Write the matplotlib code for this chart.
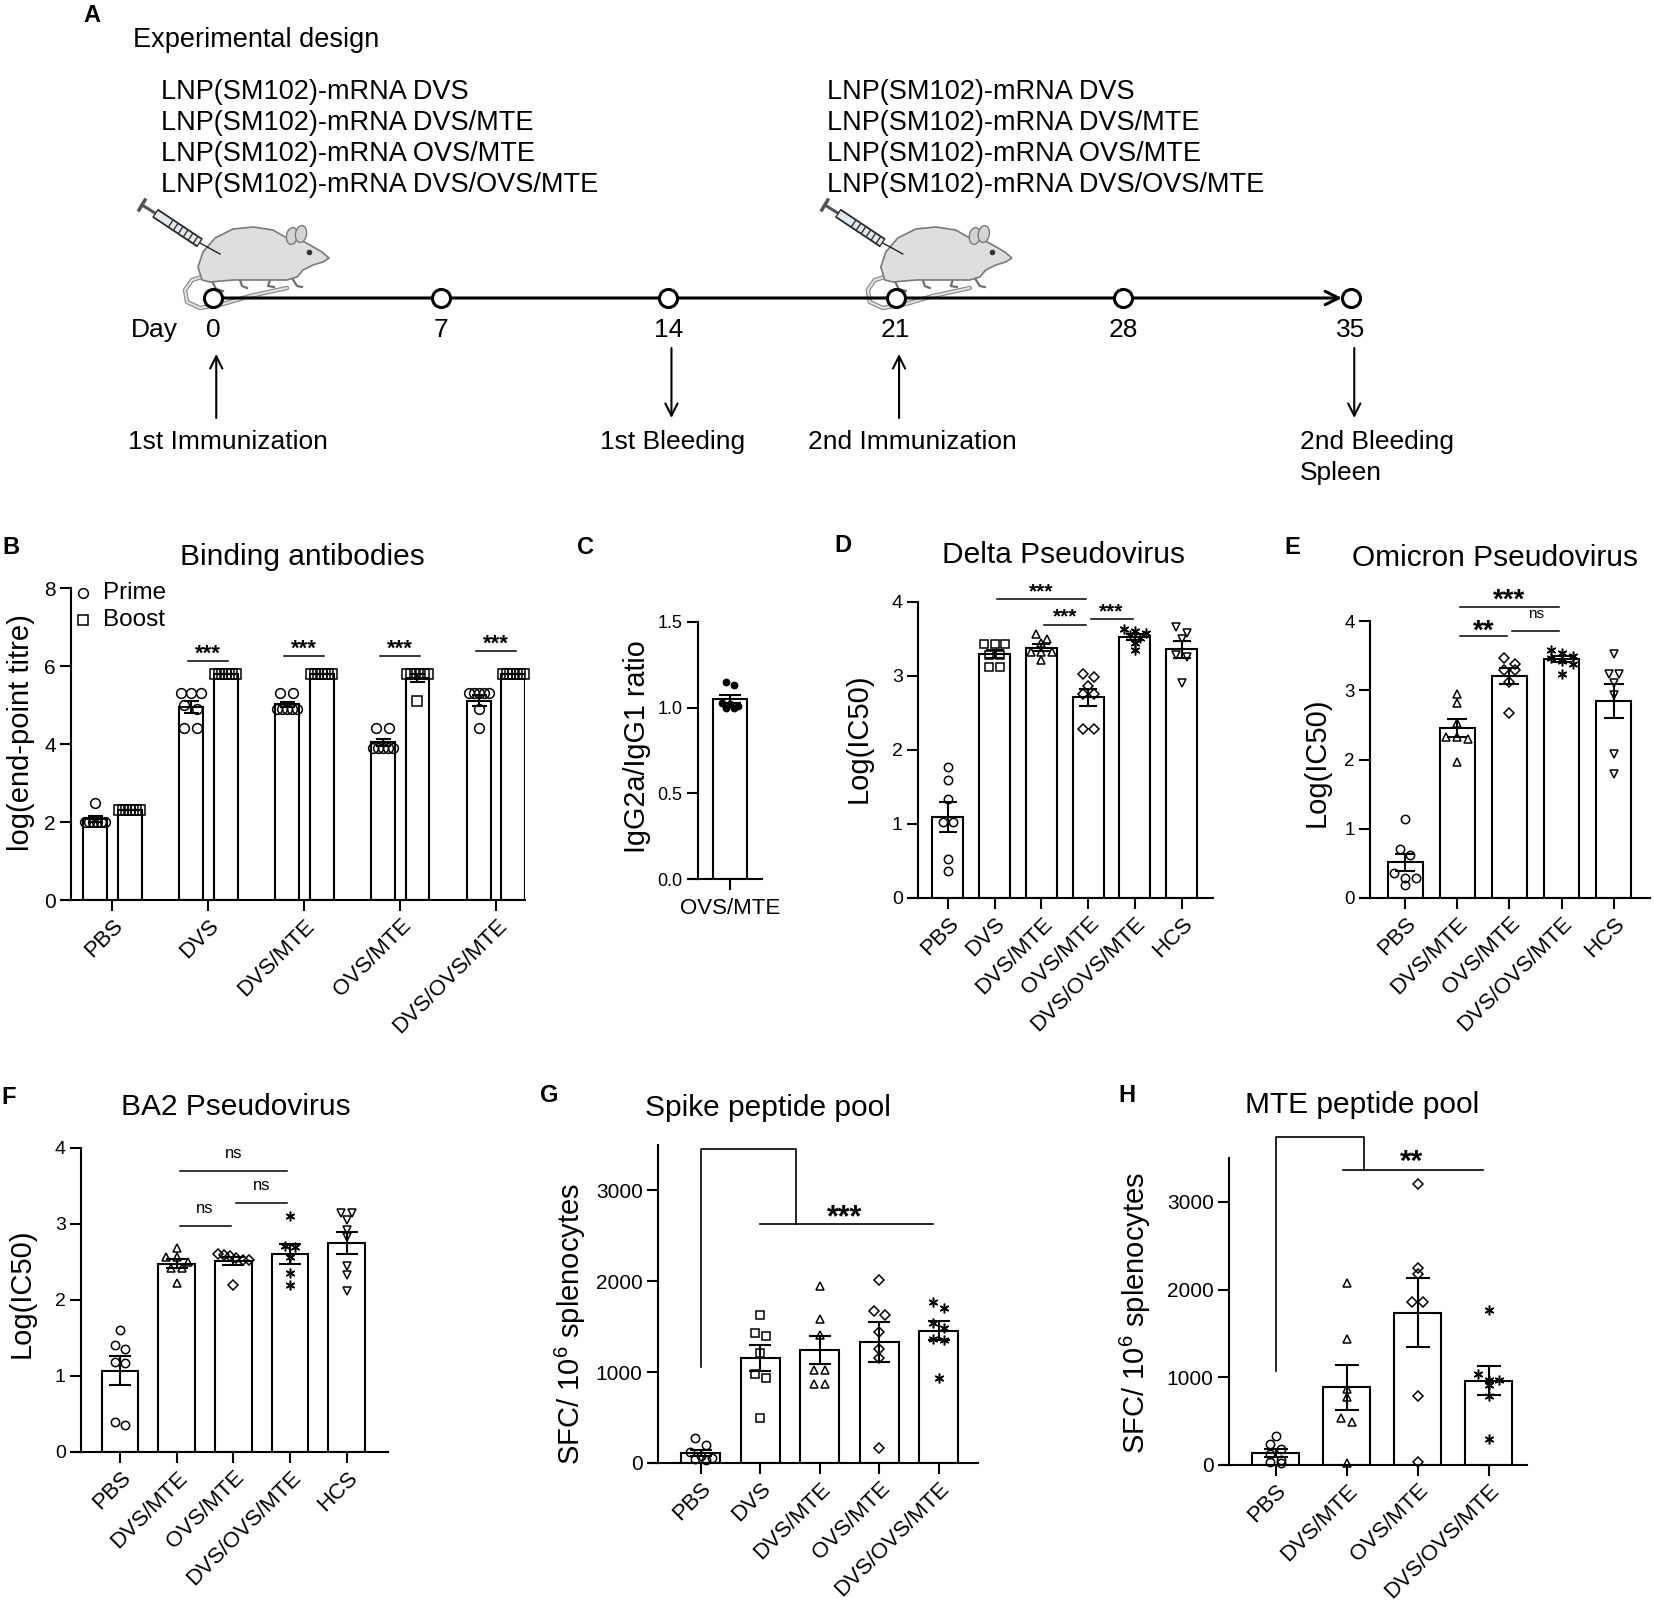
import numpy as np
import matplotlib
matplotlib.use("Agg")
import matplotlib.pyplot as plt
from matplotlib.patches import Polygon, Ellipse

plt.rcParams['font.family'] = ['Liberation Sans', 'DejaVu Sans']
plt.rcParams['mathtext.fontset'] = 'custom'
plt.rcParams['mathtext.rm'] = 'Liberation Sans'
plt.rcParams['mathtext.it'] = 'Liberation Sans:italic'
plt.rcParams['mathtext.bf'] = 'Liberation Sans:bold'

# ======================= DATA =======================
# Panel A - experimental design
timeline_days = [0, 7, 14, 21, 28, 35]
vaccines = ['LNP(SM102)-mRNA DVS', 'LNP(SM102)-mRNA DVS/MTE',
            'LNP(SM102)-mRNA OVS/MTE', 'LNP(SM102)-mRNA DVS/OVS/MTE']
immunization_days = [0, 21]
event_days = [0, 14, 21, 35]
event_labels = ['1st Immunization', '1st Bleeding', '2nd Immunization', '2nd Bleeding\nSpleen']
event_dirs = ['up', 'down', 'up', 'down']

# Panel B - binding antibodies (log end-point titre)
groups_B = ['PBS', 'DVS', 'DVS/MTE', 'OVS/MTE', 'DVS/OVS/MTE']
series_B = ['Prime', 'Boost']
B_prime = [[2.0, 2.0, 2.0, 2.0, 2.0, 2.0, 2.5],
           [5.3, 5.3, 5.3, 5.0, 4.9, 4.4, 4.4],
           [5.3, 5.3, 4.9, 4.9, 4.9, 4.9, 4.9],
           [4.4, 4.4, 3.9, 3.9, 3.9, 3.9, 3.9],
           [5.3, 5.3, 5.3, 5.3, 5.3, 4.9, 4.4]]
B_boost = [[2.3, 2.3, 2.3, 2.3, 2.3, 2.3, 2.3],
           [5.8, 5.8, 5.8, 5.8, 5.8, 5.8, 5.8],
           [5.8, 5.8, 5.8, 5.8, 5.8, 5.8, 5.8],
           [5.8, 5.8, 5.8, 5.8, 5.8, 5.8, 5.1],
           [5.8, 5.8, 5.8, 5.8, 5.8, 5.8, 5.8]]
B_sig_groups = [1, 2, 3, 4]
B_sig_line = [6.13, 6.25, 6.25, 6.38]
B_sig_text = ['***', '***', '***', '***']

# Panel C - IgG2a/IgG1 ratio
groups_C = ['OVS/MTE']
C_vals = [1.00, 1.00, 1.01, 1.02, 1.03, 1.13, 1.15]

# Panel D - Delta pseudovirus Log(IC50)
groups_D = ['PBS', 'DVS', 'DVS/MTE', 'OVS/MTE', 'DVS/OVS/MTE', 'HCS']
D_vals = [[1.77, 1.60, 1.34, 1.03, 1.03, 0.53, 0.36],
          [3.43, 3.43, 3.43, 3.29, 3.29, 3.12, 3.12],
          [3.57, 3.50, 3.44, 3.32, 3.32, 3.32, 3.21],
          [3.03, 2.99, 2.87, 2.76, 2.76, 2.29, 2.29],
          [3.64, 3.61, 3.58, 3.55, 3.52, 3.44, 3.35],
          [3.66, 3.58, 3.50, 3.28, 3.26, 2.90]]
D_sig_pairs = [(1, 3), (2, 3), (3, 4)]
D_sig_line = [4.04, 3.69, 3.77]
D_sig_textpos = [4.22, 3.89, 3.95]
D_sig_text = ['***', '***', '***']

# Panel E - Omicron pseudovirus
groups_E = ['PBS', 'DVS/MTE', 'OVS/MTE', 'DVS/OVS/MTE', 'HCS']
E_vals = [[1.14, 0.71, 0.62, 0.36, 0.29, 0.29, 0.19],
          [2.95, 2.81, 2.52, 2.33, 2.32, 2.30, 1.97],
          [3.46, 3.38, 3.29, 3.29, 3.12, 2.67],
          [3.58, 3.54, 3.50, 3.46, 3.42, 3.38, 3.24],
          [3.52, 3.24, 3.24, 3.10, 2.93, 2.08, 1.79]]
E_sig_pairs = [(1, 3), (1, 2), (2, 3)]
E_sig_line = [4.20, 3.78, 3.86]
E_sig_textpos = [4.42, 3.98, 4.10]
E_sig_text = ['***', '**', 'ns']

# Panel F - BA2 pseudovirus
groups_F = ['PBS', 'DVS/MTE', 'OVS/MTE', 'DVS/OVS/MTE', 'HCS']
F_vals = [[1.61, 1.41, 1.36, 1.19, 1.17, 0.40, 0.36],
          [2.68, 2.56, 2.56, 2.50, 2.42, 2.42, 2.22],
          [2.60, 2.59, 2.58, 2.55, 2.53, 2.52, 2.20],
          [3.10, 2.71, 2.70, 2.56, 2.35, 2.20],
          [3.15, 3.15, 3.05, 2.92, 2.83, 2.45, 2.33, 2.12]]
F_sig_pairs = [(1, 3), (2, 3), (1, 2)]
F_sig_line = [3.70, 3.28, 2.97]
F_sig_textpos = [3.93, 3.51, 3.21]
F_sig_text = ['ns', 'ns', 'ns']

# Panel G - Spike peptide pool ELISpot
groups_G = ['PBS', 'DVS', 'DVS/MTE', 'OVS/MTE', 'DVS/OVS/MTE']
G_vals = [[270, 200, 120, 80, 60, 40, 30],
          [1632, 1430, 1393, 1209, 981, 933, 492],
          [1944, 1588, 1412, 1026, 1026, 870, 870],
          [2018, 1669, 1632, 1441, 1253, 1154, 170],
          [1775, 1709, 1543, 1488, 1367, 1356, 937]]
G_bracket_x = [0, 0, 1.6, 1.6]
G_bracket_y = [1062, 3458, 3458, 2631]
G_line_x = [1, 3.9]
G_text = '***'
G_text_pos = (2.42, 2804)

# Panel H - MTE peptide pool ELISpot
groups_H = ['PBS', 'DVS/MTE', 'OVS/MTE', 'DVS/OVS/MTE']
H_vals = [[330, 240, 180, 120, 60, 30, 20],
          [2071, 1437, 866, 778, 531, 486, 20],
          [3202, 2248, 2172, 1864, 1856, 782, 30],
          [1767, 1037, 968, 968, 912, 782, 300]]
H_bracket_x = [0, 0, 1.24, 1.24]
H_bracket_y = [1075, 3737, 3737, 3365]
H_line_x = [0.94, 2.92]
H_text = '**'
H_text_pos = (1.92, 3557)

# ======================= STYLE / LAYOUT =======================
W, H = 1654, 1607
fig = plt.figure(figsize=(W / 100, H / 100), dpi=100)
LW = 1.5
TICKLEN = 8
MEW = 1.1
MARK = {'PBS': 'o', 'DVS': 's', 'DVS/MTE': '^', 'OVS/MTE': 'D',
        'DVS/OVS/MTE': (6, 2, 0), 'HCS': 'v'}
MSIZE = {'PBS': 6, 'DVS': 5.2, 'DVS/MTE': 6, 'OVS/MTE': 4.6,
         'DVS/OVS/MTE': 7, 'HCS': 6}


def ftext(x, y, s, **kw):
    return fig.text(x / W, 1 - y / H, s, **kw)


def px_scale(ax):
    pos = ax.get_position()
    xr = ax.get_xlim()
    yr = ax.get_ylim()
    return pos.width * W / (xr[1] - xr[0]), pos.height * H / (yr[1] - yr[0])


def make_panel(box, xlim, ylim, yticks, ytick_fs, yfmt=None):
    l, r, t, b = box
    ax = fig.add_axes([l / W, 1 - b / H, (r - l) / W, (b - t) / H])
    ax.set_facecolor('none')
    ax.set_xlim(*xlim)
    ax.set_ylim(*ylim)
    ax.spines['top'].set_visible(False)
    ax.spines['right'].set_visible(False)
    ax.spines['left'].set_linewidth(LW)
    ax.spines['bottom'].set_linewidth(LW)
    ax.set_yticks(yticks)
    if yfmt:
        ax.set_yticklabels([yfmt.format(v) for v in yticks])
    ax.tick_params(axis='both', direction='out', length=TICKLEN, width=LW, color='k')
    ax.tick_params(axis='y', labelsize=ytick_fs, pad=3)
    ax.tick_params(axis='x', pad=3)
    ext = (TICKLEN * 100 / 72) / (r - l)
    ax.plot([-ext, 0], [0, 0], transform=ax.transAxes, color='k', lw=LW,
            clip_on=False, solid_capstyle='butt')
    return ax


def spread_offsets(vals, ax, diam_px, halfwidth_units):
    xpx, ypx = px_scale(ax)
    v = np.asarray(vals, float)
    order = np.argsort(-v, kind='stable')
    rows = []
    for i in order:
        y = v[i] * ypx
        if rows and rows[-1][0] - y < 0.8 * diam_px:
            rows[-1][1].append(i)
        else:
            rows.append([y, [i]])
    off = np.zeros(len(v))
    maxoff = 0.85 * halfwidth_units * xpx
    for _, mem in rows:
        n = len(mem)
        if n > 1:
            sp = min(1.3 * diam_px, 2 * maxoff / (n - 1))
            for k, i in enumerate(mem):
                off[i] = (k - (n - 1) / 2) * sp
    return off / xpx


def draw_group(ax, x, vals, marker, ms, bw, diam_px, capsize, filled=False):
    m = np.mean(vals)
    s = np.std(vals, ddof=1) / np.sqrt(len(vals))
    ax.bar([x], [m], width=bw, facecolor='white', edgecolor='k', linewidth=LW, zorder=2)
    off = spread_offsets(vals, ax, diam_px, bw / 2)
    ax.plot(x + off, vals, ls='none', marker=marker, ms=ms,
            mfc='k' if filled else 'none', mec='k', mew=MEW, zorder=3, clip_on=False)
    ax.errorbar([x], [m], yerr=[s], fmt='none', ecolor='k', elinewidth=LW,
                capsize=capsize, capthick=LW, zorder=4)


def bar_panel(ax, groups, data, bw, diam_px, capsize):
    xs = np.arange(len(groups))
    for x, g, d in zip(xs, groups, data):
        draw_group(ax, x, d, MARK[g], MSIZE[g], bw, diam_px, capsize)
    ax.set_xticks(xs)
    ax.set_xticklabels(groups, rotation=45, ha='right', va='top',
                       rotation_mode='anchor', fontsize=16)


def mark_text(ax, x, y, s, fs):
    k = 0.58 if '*' in s else 0.27
    ax.annotate(s, xy=(x, y), xytext=(0, -k * fs), textcoords='offset points',
                ha='center', va='baseline', fontsize=fs,
                fontweight='bold' if '*' in s else 'normal', annotation_clip=False)


def sig_lines(ax, pairs, ylines, ytexts, texts, fs_star, fs_ns, shrink=0.05):
    for (i, j), yl, yt, t in zip(pairs, ylines, ytexts, texts):
        ax.plot([i + shrink, j - shrink], [yl, yl], color='k', lw=1.1, clip_on=False)
        mark_text(ax, (i + j) / 2, yt, t, fs_star if '*' in t else fs_ns)


# ======================= PANEL A =======================
bg = fig.add_axes([0, 0, 1, 1])
bg.set_xlim(0, W)
bg.set_ylim(H, 0)
bg.axis('off')

X0, X35 = 213, 1351
ppd = (X35 - X0) / 35.0
tl = fig.add_axes([0, 0, 1, 1])
tl.set_xlim(-X0 / ppd, (W - X0) / ppd)
tl.set_ylim(H, 0)
tl.axis('off')
TL_Y = 298


def day_px(d):
    return tl.transData.transform((d, 0))[0]


def draw_mouse(cx, cy):
    def P(pts):
        return [(cx + a, cy + b) for a, b in pts]
    # tail
    tail = P([(-11, -21), (-21, -18), (-28, -8), (-26, 4), (-13, 10), (10, 6), (37, -2), (74, -10)])
    tx, ty = zip(*tail)
    bg.plot(tx, ty, color='#8a8a8a', lw=3.2, solid_capstyle='round', zorder=1)
    bg.plot(tx, ty, color='#e2e2e2', lw=1.5, solid_capstyle='round', zorder=1)
    # legs
    for leg in [[(-1, -17), (3, -9), (10, -7)], [(27, -18), (29, -12), (34, -10)],
                [(57, -18), (55, -12), (61, -11)], [(79, -20), (84, -12), (89, -11)]]:
        lx, ly = zip(*P(leg))
        bg.plot(lx, ly, color='#6e6e6e', lw=1.6, zorder=2)
    # body
    body = P([(-11, -18), (-15, -31), (-10, -46), (2, -60), (20, -69), (40, -71), (60, -68),
              (72, -61), (84, -60), (97, -53), (109, -46), (116, -40), (110, -36), (100, -33),
              (90, -28), (84, -21), (74, -18), (47, -18), (20, -18), (-3, -16)])
    bg.add_patch(Polygon(body, closed=True, facecolor='#dedede', edgecolor='#7a7a7a',
                         lw=1.2, joinstyle='round', zorder=3))
    # ears
    for ex, ey in [(79, -62), (88, -64)]:
        bg.add_patch(Ellipse((cx + ex, cy + ey), 11, 17, angle=10, facecolor='#d4d4d4',
                             edgecolor='#7a7a7a', lw=1.0, zorder=4))
    # eye
    bg.plot([cx + 96], [cy - 46], marker='o', ms=3, color='#333333', zorder=5)
    # syringe
    bg.plot([cx - 71, cx - 58], [cy - 93, cy - 85], color='#555555', lw=2.2, zorder=5)
    bg.plot([cx - 74, cx - 68], [cy - 88, cy - 98], color='#555555', lw=2.5, zorder=5)
    bg.plot([cx - 58, cx - 13], [cy - 85, cy - 55], color='#222222', lw=7.5,
            solid_capstyle='butt', zorder=5)
    bg.plot([cx - 57, cx - 14], [cy - 84.3, cy - 55.7], color='#dfe7ef', lw=5,
            solid_capstyle='butt', zorder=6)
    for f in np.linspace(0.35, 0.9, 6):
        gx = cx - 58 + 45 * f
        gy = cy - 85 + 30 * f
        bg.plot([gx - 2, gx + 2], [gy + 3, gy - 3], color='#333333', lw=1.0, zorder=7)
    bg.plot([cx - 13, cx + 7], [cy - 55, cy - 44], color='#222222', lw=1.0, zorder=5)


for d in immunization_days:
    draw_mouse(day_px(d), TL_Y)

tl.annotate('', xy=(timeline_days[-1], TL_Y), xytext=(timeline_days[0], TL_Y),
            arrowprops=dict(arrowstyle='->', lw=2.2, mutation_scale=24,
                            shrinkA=0, shrinkB=6.5, color='k'), zorder=4)
tl.plot(timeline_days, [TL_Y] * len(timeline_days), ls='none', marker='o', ms=13,
        mfc='white', mec='k', mew=2.2, zorder=6)
for d in timeline_days:
    tl.text(d, 330, str(d), ha='center', va='center', fontsize=19)
bg.text(154, 330, 'Day', ha='center', va='center', fontsize=19)

ev_offsets = [15, 4, 17, -51]
ev_ha = ['center', 'center', 'center', 'left']
for d, lab, dr, dx, ha in zip(event_days, event_labels, event_dirs, ev_offsets, ev_ha):
    xa = d + 0.1
    if dr == 'up':
        tl.annotate('', xy=(xa, 354), xytext=(xa, 418),
                    arrowprops=dict(arrowstyle='->', lw=1.5, mutation_scale=22,
                                    shrinkA=0, shrinkB=0, color='k'))
    else:
        tl.annotate('', xy=(xa, 418), xytext=(xa, 348),
                    arrowprops=dict(arrowstyle='->', lw=1.5, mutation_scale=22,
                                    shrinkA=0, shrinkB=0, color='k'))
    bg.text(day_px(d) + dx, 430, lab, ha=ha, va='top', fontsize=19, linespacing=1.35)

bg.text(92, 15, 'A', ha='center', va='center', fontsize=17, fontweight='bold')
bg.text(133, 40, 'Experimental design', ha='left', va='center', fontsize=19.5)
for k, v in enumerate(vaccines):
    bg.text(161, 92 + 31 * k, v, ha='left', va='center', fontsize=19.5)
    bg.text(827, 92 + 31 * k, v, ha='left', va='center', fontsize=19.5)

# ======================= PANEL B =======================
axB = make_panel((71, 525, 588, 900), (-0.43, 4.30), (0, 8), [0, 2, 4, 6, 8], 15)
xsB = np.arange(len(groups_B))
for x, dp, db in zip(xsB, B_prime, B_boost):
    draw_group(axB, x - 0.18, dp, 'o', 7, 0.25, 10, 5.4)
    draw_group(axB, x + 0.18, db, 's', 7, 0.25, 10, 5.4)
axB.set_xticks(xsB)
axB.set_xticklabels(groups_B, rotation=45, ha='right', va='top',
                    rotation_mode='anchor', fontsize=16)
for g, yl, t in zip(B_sig_groups, B_sig_line, B_sig_text):
    axB.plot([g - 0.21, g + 0.21], [yl, yl], color='k', lw=1.1)
    mark_text(axB, g, yl + 0.37, t, 16)
axB.plot([0.027], [0.984], transform=axB.transAxes, marker='o', ms=7, mfc='none',
         mec='k', mew=MEW, clip_on=False)
axB.plot([0.027], [0.897], transform=axB.transAxes, marker='s', ms=6.5, mfc='none',
         mec='k', mew=MEW, clip_on=False)
axB.text(0.07, 0.984, series_B[0], transform=axB.transAxes, va='center', fontsize=17.5)
axB.text(0.07, 0.897, series_B[1], transform=axB.transAxes, va='center', fontsize=17.5)
ftext(302, 557, 'Binding antibodies', ha='center', va='center', fontsize=21.5)
ftext(21, 733, 'log(end-point titre)', ha='center', va='center', rotation=90, fontsize=21)
ftext(11, 547, 'B', ha='center', va='center', fontsize=17, fontweight='bold')

# ======================= PANEL C =======================
axC = make_panel((698, 762, 622, 879), (-0.58, 0.58), (0, 1.5), [0, 0.5, 1.0, 1.5], 13, '{:.1f}')
draw_group(axC, 0, C_vals, 'o', 4.5, 0.6, 6, 8, filled=True)
axC.set_xticks([0])
axC.set_xticklabels(groups_C, fontsize=16)
axC.tick_params(axis='x', pad=6)
ftext(637, 747, 'IgG2a/IgG1 ratio', ha='center', va='center', rotation=90, fontsize=20.7)
ftext(585, 547, 'C', ha='center', va='center', fontsize=17, fontweight='bold')

# ======================= PANEL D =======================
axD = make_panel((918, 1213, 602, 898), (-0.64, 5.67), (0, 4), [0, 1, 2, 3, 4], 14)
bar_panel(axD, groups_D, D_vals, 0.66, 8.3, 6.5)
sig_lines(axD, D_sig_pairs, D_sig_line, D_sig_textpos, D_sig_text, 15, 11)
ftext(1063, 555, 'Delta Pseudovirus', ha='center', va='center', fontsize=21.5)
ftext(859, 738, 'Log(IC50)', ha='center', va='center', rotation=90, fontsize=21)
ftext(843, 546, 'D', ha='center', va='center', fontsize=17, fontweight='bold')

# ======================= PANEL E =======================
axE = make_panel((1370, 1650, 621, 898), (-0.67, 4.69), (0, 4), [0, 1, 2, 3, 4], 13.5)
bar_panel(axE, groups_E, E_vals, 0.67, 8.3, 7.5)
sig_lines(axE, E_sig_pairs, E_sig_line, E_sig_textpos, E_sig_text, 20, 11)
ftext(1495, 558, 'Omicron Pseudovirus', ha='center', va='center', fontsize=21.5)
ftext(1317, 762, 'Log(IC50)', ha='center', va='center', rotation=90, fontsize=21)
ftext(1292, 547, 'E', ha='center', va='center', fontsize=17, fontweight='bold')

# ======================= PANEL F =======================
axF = make_panel((81, 388, 1148, 1452), (-0.69, 4.73), (0, 4), [0, 1, 2, 3, 4], 14)
bar_panel(axF, groups_F, F_vals, 0.65, 8.3, 7.8)
sig_lines(axF, F_sig_pairs, F_sig_line, F_sig_textpos, F_sig_text, 16, 12)
ftext(236, 1107, 'BA2 Pseudovirus', ha='center', va='center', fontsize=21.5)
ftext(22, 1293, 'Log(IC50)', ha='center', va='center', rotation=90, fontsize=21)
ftext(9, 1097, 'F', ha='center', va='center', fontsize=17, fontweight='bold')

# ======================= PANEL G =======================
axG = make_panel((658, 978, 1145, 1463), (-0.72, 4.66), (0, 3500), [0, 1000, 2000, 3000], 15)
bar_panel(axG, groups_G, G_vals, 0.66, 8.3, 8)
axG.plot(G_bracket_x, G_bracket_y, color='k', lw=1.2, clip_on=False)
axG.plot(G_line_x, [G_bracket_y[-1]] * 2, color='k', lw=1.2, clip_on=False)
mark_text(axG, G_text_pos[0], G_text_pos[1], G_text, 22)
ftext(768, 1108, 'Spike peptide pool', ha='center', va='center', fontsize=21.5)
ftext(570, 1324, r'SFC/ 10$^{6}$ splenocytes', ha='center', va='center', rotation=90, fontsize=21)
ftext(549, 1096, 'G', ha='center', va='center', fontsize=17, fontweight='bold')

# ======================= PANEL H =======================
axH = make_panel((1229, 1527, 1158, 1465), (-0.66, 3.54), (0, 3500), [0, 1000, 2000, 3000], 15)
bar_panel(axH, groups_H, H_vals, 0.66, 8.3, 8.7)
axH.plot(H_bracket_x, H_bracket_y, color='k', lw=1.2, clip_on=False)
axH.plot(H_line_x, [H_bracket_y[-1]] * 2, color='k', lw=1.2, clip_on=False)
mark_text(axH, H_text_pos[0], H_text_pos[1], H_text, 21.5)
ftext(1362, 1105, 'MTE peptide pool', ha='center', va='center', fontsize=21.5)
ftext(1135, 1313, r'SFC/ 10$^{6}$ splenocytes', ha='center', va='center', rotation=90, fontsize=21)
ftext(1127, 1096, 'H', ha='center', va='center', fontsize=17, fontweight='bold')

fig.savefig('out.png', dpi=100, facecolor='white')
